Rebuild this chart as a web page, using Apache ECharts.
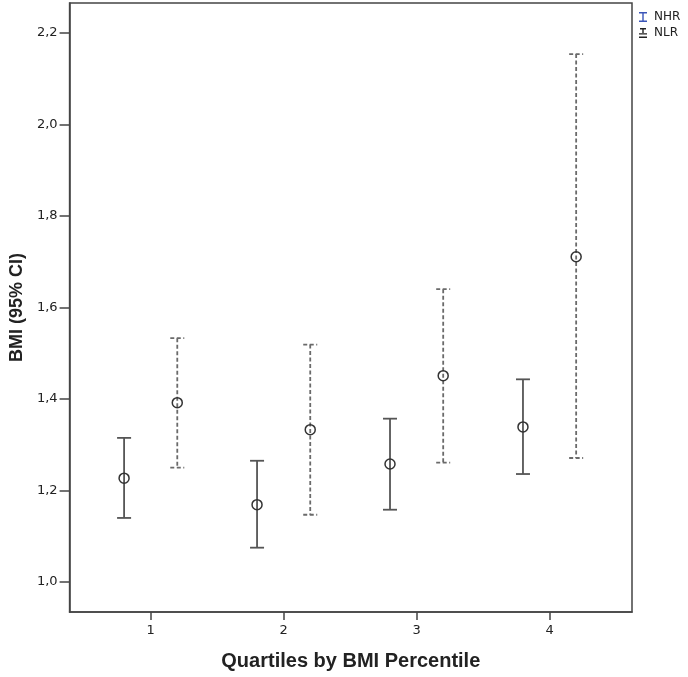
<!DOCTYPE html>
<html>
<head>
<meta charset="utf-8">
<script src="https://cdn.jsdelivr.net/npm/echarts@6/dist/echarts.min.js"></script>
<style>
    html, body { margin: 0; padding: 0; background: #fff; }
    #chart { width: 688px; height: 677px; }
</style>
</head>
<body>
<div id="chart"></div>
<script>
// 数据
var quartiles = [1, 2, 3, 4];
var nhrMean  = [1.227, 1.169, 1.258, 1.339];
var nhrLower = [1.140, 1.075, 1.158, 1.236];
var nhrUpper = [1.315, 1.265, 1.357, 1.443];
var nlrMean  = [1.392, 1.333, 1.451, 1.711];
var nlrLower = [1.250, 1.147, 1.261, 1.271];
var nlrUpper = [1.533, 1.519, 1.640, 2.154];
var yTicks = [1.0, 1.2, 1.4, 1.6, 1.8, 2.0, 2.2];

function buildData(offset, lower, upper, mean) {
    return quartiles.map(function (q, i) {
        return [q + offset, lower[i], upper[i], mean[i]];
    });
}

function makeRender(dashed) {
    return function (params, api) {
        var lo = api.coord([api.value(0), api.value(1)]);
        var hi = api.coord([api.value(0), api.value(2)]);
        var mid = api.coord([api.value(0), api.value(3)]);
        var w = 7;
        var color = dashed ? '#6a6a6a' : '#555';
        var lineStyle = {
            stroke: color,
            lineWidth: 1.8,
            lineDash: dashed ? [4, 2.5] : null
        };
        return {
            type: 'group',
            children: [
                { type: 'line', shape: { x1: hi[0], y1: hi[1], x2: lo[0], y2: lo[1] }, style: lineStyle },
                { type: 'line', shape: { x1: hi[0] - w, y1: hi[1], x2: hi[0] + w, y2: hi[1] }, style: lineStyle },
                { type: 'line', shape: { x1: lo[0] - w, y1: lo[1], x2: lo[0] + w, y2: lo[1] }, style: lineStyle },
                { type: 'circle', shape: { cx: mid[0], cy: mid[1], r: 5 }, style: { fill: 'none', stroke: '#333', lineWidth: 1.5 } }
            ]
        };
    };
}

var myChart = echarts.init(document.getElementById('chart'));

var iconNHR = 'path://M0,0h8v1.4h-8z M3.3,0h1.4v10h-1.4z M0,8.6h8v1.4h-8z';
var iconNLR = 'path://M1,0h6v1.4h-6z M3.3,0h1.4v5h-1.4z M0,5.2h8v1.4h-8z M0,8.6h8v1.4h-8z';

var option = {
    backgroundColor: '#fff',
    animation: false,
    legend: {
        orient: 'vertical',
        left: 634,
        top: 6,
        itemWidth: 8,
        itemHeight: 10,
        itemGap: 4,
        textStyle: {
            fontFamily: 'DejaVu Sans',
            fontSize: 12,
            color: '#222',
            padding: [0, 0, 0, 2]
        },
        data: [
            { name: 'NHR', icon: iconNHR, itemStyle: { color: '#3a55b8' } },
            { name: 'NLR', icon: iconNLR, itemStyle: { color: '#222' } }
        ]
    },
    grid: {
        left: 67.5,
        top: 3,
        right: 56,
        bottom: 65,
        show: true,
        borderColor: '#444',
        borderWidth: 1.5
    },
    xAxis: {
        type: 'value',
        min: 0.39,
        max: 4.62,
        name: 'Quartiles by BMI Percentile',
        nameLocation: 'middle',
        nameGap: 39,
        nameTextStyle: {
            fontFamily: 'Liberation Sans',
            fontWeight: 'bold',
            fontSize: 20,
            color: '#222'
        },
        axisLine: { show: true, lineStyle: { color: '#444', width: 1.5 } },
        axisTick: { show: true, length: 8, customValues: quartiles, lineStyle: { color: '#444', width: 1.5 } },
        axisLabel: {
            customValues: quartiles,
            margin: 12,
            fontFamily: 'DejaVu Sans',
            fontSize: 13,
            color: '#222'
        },
        splitLine: { show: false }
    },
    yAxis: {
        type: 'value',
        min: 0.9344,
        max: 2.2656,
        name: 'BMI (95% CI)',
        nameLocation: 'middle',
        nameGap: 43,
        nameTextStyle: {
            fontFamily: 'Liberation Sans',
            fontWeight: 'bold',
            fontSize: 18,
            color: '#222'
        },
        axisLine: { show: true, lineStyle: { color: '#444', width: 1.5 } },
        axisTick: { show: true, length: 10, customValues: yTicks, lineStyle: { color: '#444', width: 1.5 } },
        axisLabel: {
            customValues: yTicks,
            margin: 12,
            fontFamily: 'DejaVu Sans',
            fontSize: 13,
            color: '#222',
            formatter: function (v) { return v.toFixed(1).replace('.', ','); }
        },
        splitLine: { show: false }
    },
    series: [
        {
            name: 'NHR',
            type: 'custom',
            renderItem: makeRender(false),
            itemStyle: { color: '#3a55b8' },
            encode: { x: 0, y: [1, 2, 3] },
            data: buildData(-0.2, nhrLower, nhrUpper, nhrMean)
        },
        {
            name: 'NLR',
            type: 'custom',
            renderItem: makeRender(true),
            itemStyle: { color: '#222' },
            encode: { x: 0, y: [1, 2, 3] },
            data: buildData(0.2, nlrLower, nlrUpper, nlrMean)
        }
    ]
};

myChart.setOption(option);
</script>
</body>
</html>
